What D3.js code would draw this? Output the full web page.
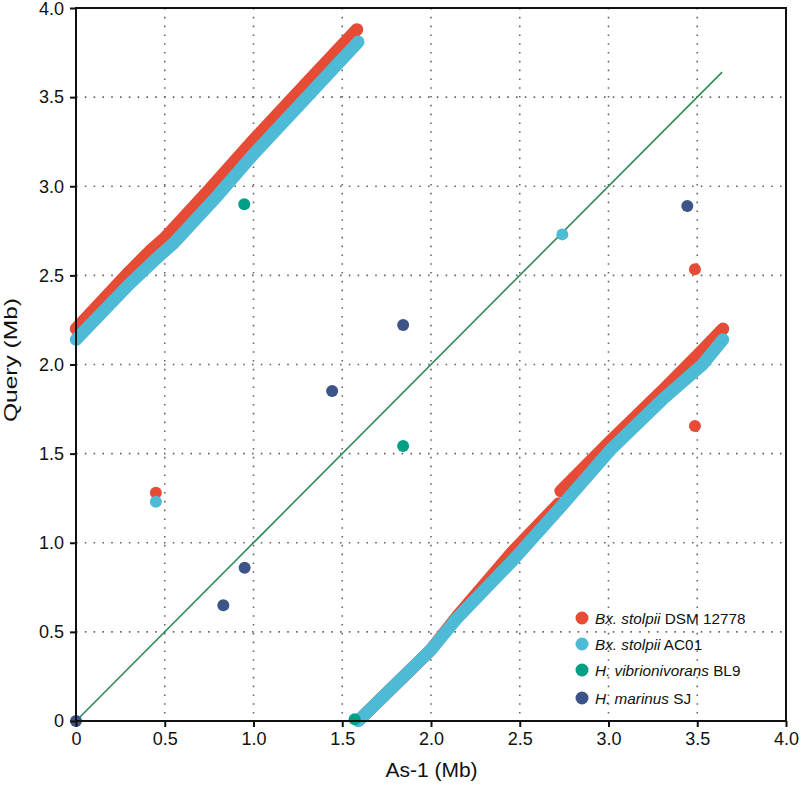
<!DOCTYPE html>
<html>
<head>
<meta charset="utf-8">
<script src="https://cdn.jsdelivr.net/npm/d3@7"></script>
<style>
  html, body { margin: 0; padding: 0; background: #fff; }
  svg { display: block; font-family: "Liberation Sans", Arial, sans-serif; }
</style>
</head>
<body>
<svg id="chart" width="800" height="787"></svg>
<script>
// ---------- data (Mb) ----------
const xTicks = [0, 0.5, 1.0, 1.5, 2.0, 2.5, 3.0, 3.5, 4.0];
const yTicks = [0, 0.5, 1.0, 1.5, 2.0, 2.5, 3.0, 3.5, 4.0];
const tickLabels = ["0", "0.5", "1.0", "1.5", "2.0", "2.5", "3.0", "3.5", "4.0"];

// continuous alignment runs (as-1 position, query position)
const dsmRuns = [
  [[0, 2.20], [0.30, 2.52], [0.42, 2.64], [0.50, 2.71], [0.75, 2.98], [1.00, 3.26], [1.30, 3.58], [1.583, 3.88]],
  [[1.60, 0.01], [2.00, 0.40], [2.15, 0.59], [2.46, 0.95], [2.72, 1.22]],
  [[2.73, 1.29], [3.01, 1.57], [3.31, 1.86], [3.52, 2.07], [3.645, 2.20]]
];
const ac01Runs = [
  [[0, 2.14], [0.30, 2.45], [0.47, 2.61], [0.55, 2.68], [0.80, 2.95], [1.00, 3.18], [1.30, 3.50], [1.59, 3.81]],
  [[1.59, 0.00], [2.00, 0.40], [2.15, 0.58], [2.46, 0.90], [2.73, 1.20], [3.01, 1.52], [3.30, 1.80], [3.53, 2.00], [3.645, 2.14]]
];
const dsmPoints = [[0.45, 1.28], [3.487, 2.534], [3.487, 1.655]];
const ac01Points = [[0.45, 1.23], [2.74, 2.73]];
const bl9Points = [[0.948, 2.899], [1.843, 1.543], [1.57, 0.01]];
const sjPoints = [[0, 0], [0.83, 0.65], [0.95, 0.86], [1.443, 1.851], [1.843, 2.222], [3.444, 2.889]];
const diagonal = [[0, 0], [3.64, 3.64]];

const seriesNames = [
  { italic: "Bx. stolpii", plain: " DSM 12778" },
  { italic: "Bx. stolpii", plain: " AC01" },
  { italic: "H. vibrionivorans", plain: " BL9" },
  { italic: "H. marinus", plain: " SJ" }
];
const seriesColors = ["#E64B35", "#4DBBD5", "#00A087", "#3C5488"];

// ---------- layout ----------
const svg = d3.select("#chart");
const pL = 76, pR = 786, pT = 8, pB = 721;
const x = d3.scaleLinear().domain([0, 4]).range([pL, pR]);
const y = d3.scaleLinear().domain([0, 4]).range([pB, pT]);

// grid
const grid = svg.append("g");
grid.selectAll("line.gx").data(xTicks.slice(1, -1)).enter().append("line")
  .attr("x1", d => x(d)).attr("x2", d => x(d)).attr("y1", pT).attr("y2", pB)
  .attr("stroke", "#666").attr("stroke-width", 1.6).attr("stroke-dasharray", "1.6,7.2");
grid.selectAll("line.gy").data(yTicks.slice(1, -1)).enter().append("line")
  .attr("y1", d => y(d)).attr("y2", d => y(d)).attr("x1", pL).attr("x2", pR)
  .attr("stroke", "#666").attr("stroke-width", 1.6).attr("stroke-dasharray", "1.6,7.2");

// diagonal
const line = d3.line().x(d => x(d[0])).y(d => y(d[1]));
svg.append("path").attr("d", line(diagonal)).attr("fill", "none")
  .attr("stroke", "#2E8B57").attr("stroke-width", 1.6);

// runs
function drawRuns(runs, color) {
  svg.append("g").selectAll("path").data(runs).enter().append("path")
    .attr("d", line).attr("fill", "none").attr("stroke", color)
    .attr("stroke-width", 12.5).attr("stroke-linecap", "round").attr("stroke-linejoin", "round");
}
drawRuns(dsmRuns, seriesColors[0]);
drawRuns(ac01Runs, seriesColors[1]);

function drawPoints(pts, color) {
  svg.append("g").selectAll("circle").data(pts).enter().append("circle")
    .attr("cx", d => x(d[0])).attr("cy", d => y(d[1])).attr("r", 6).attr("fill", color);
}
drawPoints(dsmPoints, seriesColors[0]);
drawPoints(ac01Points, seriesColors[1]);
drawPoints(bl9Points, seriesColors[2]);
drawPoints(sjPoints, seriesColors[3]);

// frame
svg.append("rect").attr("x", pL).attr("y", pT).attr("width", pR - pL).attr("height", pB - pT)
  .attr("fill", "none").attr("stroke", "#111").attr("stroke-width", 2);

// axes
const xAxis = d3.axisBottom(x).tickValues(xTicks).tickFormat((d, i) => tickLabels[i]).tickSize(6).tickPadding(5);
const gx = svg.append("g").attr("transform", `translate(0,${pB})`).call(xAxis);
gx.select(".domain").remove();
gx.selectAll("line").attr("stroke", "#111").attr("stroke-width", 2);
gx.selectAll("text").attr("font-size", 18).attr("fill", "#111").attr("font-family", "Liberation Sans, Arial, sans-serif");

const yAxis = d3.axisLeft(y).tickValues(yTicks).tickFormat((d, i) => tickLabels[i]).tickSize(6).tickPadding(6);
const gy = svg.append("g").attr("transform", `translate(${pL},0)`).call(yAxis);
gy.select(".domain").remove();
gy.selectAll("line").attr("stroke", "#111").attr("stroke-width", 2);
gy.selectAll("text").attr("font-size", 18).attr("fill", "#111").attr("font-family", "Liberation Sans, Arial, sans-serif")
  .attr("dy", (d, i) => i === yTicks.length - 1 ? "0.36em" : "0.32em");

// titles
svg.append("text").attr("x", (pL + pR) / 2 + 0.5).attr("y", 777).attr("text-anchor", "middle")
  .attr("font-size", 21).attr("fill", "#111").text("As-1 (Mb)");
svg.append("text").attr("transform", `translate(17,360) rotate(-90)`)
  .attr("text-anchor", "middle").attr("font-size", 18).attr("fill", "#111")
  .attr("textLength", 124).attr("lengthAdjust", "spacingAndGlyphs").text("Query (Mb)");

// legend
const legendY = [618, 644, 670, 698];
const lg = svg.append("g");
seriesNames.forEach((s, i) => {
  lg.append("circle").attr("cx", 582).attr("cy", legendY[i]).attr("r", 6.5).attr("fill", seriesColors[i]);
  const t = lg.append("text").attr("x", 595).attr("y", legendY[i] + 5.5).attr("font-size", 15.3).attr("fill", "#111");
  t.append("tspan").attr("font-style", "italic").text(s.italic);
  t.append("tspan").text(s.plain);
});
</script>
</body>
</html>
